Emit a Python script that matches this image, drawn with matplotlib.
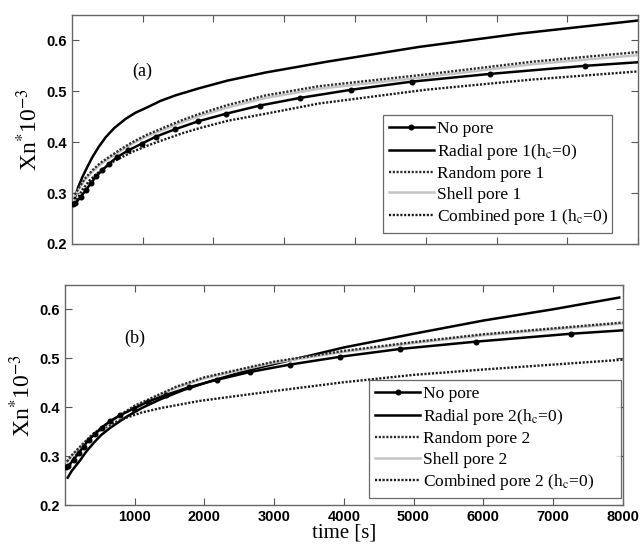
import numpy as np
import matplotlib
matplotlib.use("Agg")
from matplotlib import pyplot as plt

plt.rcParams['mathtext.fontset'] = 'stix'

# shared reference curve (no pore), same in both panels
t_nopore = [20, 50, 127, 197, 268, 340, 432, 526, 643, 798, 986, 1188, 1451, 1784,
            2181, 2657, 3225, 3947, 4807, 5900, 7252, 8000]
v_nopore = [0.278, 0.280, 0.293, 0.306, 0.319, 0.333, 0.345, 0.358, 0.371, 0.384, 0.397,
            0.411, 0.425, 0.441, 0.456, 0.472, 0.487, 0.503, 0.519, 0.534, 0.550, 0.557]

# panel (a)
t_rad1 = [40, 90, 150, 220, 291, 380, 479, 600, 761, 900, 1089, 1250, 1465, 1800, 2200,
          2742, 3600, 4900, 6310, 8000]
v_rad1 = [0.290, 0.312, 0.332, 0.352, 0.371, 0.391, 0.410, 0.428, 0.446, 0.458, 0.470, 0.481,
          0.492, 0.506, 0.521, 0.537, 0.558, 0.587, 0.613, 0.639]
t_ran1 = [40, 120, 180, 291, 400, 526, 700, 855, 1050, 1324, 1550, 1789, 2200, 2742, 3493,
          5000, 6500, 8000]
v_ran1 = [0.297, 0.315, 0.328, 0.345, 0.359, 0.371, 0.387, 0.400, 0.414, 0.430, 0.443, 0.455,
          0.473, 0.492, 0.510, 0.533, 0.558, 0.577]
t_she1 = [40, 120, 180, 291, 400, 526, 700, 855, 1050, 1324, 1550, 1789, 2200, 2742, 3493,
          5000, 6500, 8000]
v_she1 = [0.295, 0.312, 0.325, 0.342, 0.356, 0.368, 0.384, 0.397, 0.411, 0.426, 0.439, 0.451,
          0.468, 0.487, 0.505, 0.528, 0.553, 0.571]
t_com1 = [40, 150, 250, 385, 600, 855, 1100, 1324, 1550, 1789, 2200, 2742, 3493, 5000, 6500, 8000]
v_com1 = [0.280, 0.307, 0.325, 0.342, 0.363, 0.381, 0.395, 0.406, 0.417, 0.427, 0.442, 0.456,
          0.476, 0.503, 0.523, 0.539]

# panel (b)
t_rad2 = [40, 100, 222, 300, 413, 520, 652, 891, 1100, 1368, 1700, 2085, 2700, 3500, 4000,
          5000, 6000, 7000, 7950]
v_rad2 = [0.256, 0.270, 0.292, 0.308, 0.327, 0.343, 0.358, 0.381, 0.398, 0.416, 0.435, 0.453,
          0.478, 0.505, 0.522, 0.550, 0.577, 0.600, 0.624]
t_ran2 = [30, 100, 222, 400, 652, 1000, 1368, 1600, 2000, 3000, 4000, 5000, 6000, 7000, 8000]
v_ran2 = [0.289, 0.302, 0.320, 0.345, 0.371, 0.403, 0.427, 0.442, 0.461, 0.493, 0.515, 0.533,
          0.549, 0.561, 0.573]
t_she2 = [30, 100, 222, 400, 652, 1000, 1368, 1600, 2000, 3000, 4000, 5000, 6000, 7000, 8000]
v_she2 = [0.288, 0.300, 0.318, 0.343, 0.369, 0.401, 0.425, 0.440, 0.459, 0.491, 0.513, 0.531,
          0.547, 0.559, 0.571]
t_com2 = [40, 200, 350, 509, 700, 891, 1100, 1368, 1941, 3000, 4000, 5000, 6000, 7000, 8000]
v_com2 = [0.275, 0.312, 0.337, 0.353, 0.368, 0.379, 0.389, 0.398, 0.413, 0.433, 0.451, 0.466,
          0.477, 0.487, 0.497]

xticks = [1000, 2000, 3000, 4000, 5000, 6000, 7000, 8000]
yticks = [0.2, 0.3, 0.4, 0.5, 0.6]

fig = plt.figure(figsize=(6.42, 5.52), dpi=100)
ax1 = fig.add_axes([0.112, 0.558, 0.882, 0.415])
ax2 = fig.add_axes([0.101, 0.085, 0.869, 0.399])

dot = (0, (0.9, 0.7))
serif = 'Liberation Serif'


def draw(ax, n, rad, ran, she, com, tag):
    ax.plot(t_nopore, v_nopore, color='k', lw=1.8, marker='o', ms=3.3,
            markevery=slice(0, -1), label='No pore', zorder=5)
    ax.plot(rad[0], rad[1], color='k', lw=1.8, label=r'Radial pore %d(h$_\mathrm{c}$=0)' % n)
    ax.plot(ran[0], ran[1], color='#2a2a2a', lw=1.7, ls=dot, label='Random pore %d' % n, zorder=4)
    ax.plot(she[0], she[1], color='#c4c4c4', lw=1.8, label='Shell pore %d' % n, zorder=3)
    ax.plot(com[0], com[1], color='#1a1a1a', lw=1.7, ls=dot,
            label=r'Combined pore %d (h$_\mathrm{c}$=0)' % n)
    ax.set_xlim(0, 8000)
    ax.set_ylim(0.2, 0.65)
    ax.set_xticks(xticks)
    ax.set_yticks(yticks)
    ax.set_yticklabels(['%.1f' % y for y in yticks])
    ax.tick_params(direction='in', top=True, right=True, length=5, width=0.8,
                   colors='#555555', labelcolor='k')
    for lab in ax.get_xticklabels() + ax.get_yticklabels():
        lab.set_fontfamily('Liberation Sans')
        lab.set_fontweight('bold')
        lab.set_fontsize(10.5)
    for sp in ax.spines.values():
        sp.set_color('#666666')
        sp.set_linewidth(1.0)
    ax.set_ylabel(r'Xn$^{*}$10$^{-3}$', fontfamily=serif, fontsize=17, labelpad=3)
    ax.text(0.125, 0.755, tag, transform=ax.transAxes, fontfamily=serif, fontsize=13,
            ha='center', va='center')


draw(ax1, 1, (t_rad1, v_rad1), (t_ran1, v_ran1), (t_she1, v_she1), (t_com1, v_com1), '(a)')
draw(ax2, 2, (t_rad2, v_rad2), (t_ran2, v_ran2), (t_she2, v_she2), (t_com2, v_com2), '(b)')
ax1.tick_params(labelbottom=False)
ax2.set_xlabel('time [s]', fontfamily=serif, fontsize=15, labelpad=0)

leg1 = ax1.legend(loc='lower left', bbox_to_anchor=(0.549, 0.048, 0.405, 0.52), mode='expand',
                  prop={'family': serif, 'size': 12.5}, frameon=True, fancybox=False,
                  edgecolor='#444444', handlelength=2.6, handletextpad=0.15,
                  labelspacing=0.25, borderpad=0.35, borderaxespad=0)
leg2 = ax2.legend(loc='lower left', bbox_to_anchor=(0.545, 0.032, 0.452, 0.532), mode='expand',
                  prop={'family': serif, 'size': 12.5}, frameon=True, fancybox=False,
                  edgecolor='#444444', handlelength=2.6, handletextpad=0.15,
                  labelspacing=0.25, borderpad=0.35, borderaxespad=0)
for leg in (leg1, leg2):
    leg.get_frame().set_linewidth(0.9)

fig.savefig('out.png', dpi=100)
